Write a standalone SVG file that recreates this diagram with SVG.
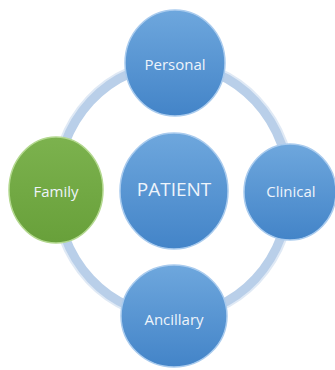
<svg xmlns="http://www.w3.org/2000/svg" width="335" height="370" viewBox="0 0 335 370">
<defs>
<linearGradient id="blue" x1="0" y1="0" x2="0" y2="1">
<stop offset="0" stop-color="#6ea7dd"/>
<stop offset="1" stop-color="#4384c8"/>
</linearGradient>
<linearGradient id="green" x1="0" y1="0" x2="0" y2="1">
<stop offset="0" stop-color="#7cb24e"/>
<stop offset="1" stop-color="#68a03a"/>
</linearGradient>
<style>
.ring{fill:none;stroke:#b9cfe9;stroke-width:10}
.ringhl{fill:none;stroke:#dfe9f5;stroke-width:2}
.b{fill:url(#blue);stroke:#a9cbee;stroke-width:1.5}
.g{fill:url(#green);stroke:#b3d88f;stroke-width:1.5}
.t{font-family:"Open Sans","Noto Sans",sans-serif;fill:#eef4fb;text-anchor:middle;dominant-baseline:central}
</style>
</defs>
<g id="connectors">
<ellipse class="ring" cx="173" cy="190" rx="117" ry="126"/>
<ellipse class="ringhl" cx="173" cy="190" rx="122" ry="131"/>
</g>
<g id="patient">
<ellipse class="b" cx="174" cy="191" rx="54" ry="58"/>
<text class="t" x="174" y="189" font-size="19">PATIENT</text>
</g>
<g id="personal">
<ellipse class="b" cx="175" cy="63" rx="50" ry="53"/>
<text class="t" x="175" y="64" font-size="15">Personal</text>
</g>
<g id="family">
<ellipse class="g" cx="56" cy="190" rx="47" ry="53"/>
<text class="t" x="56" y="191" font-size="15">Family</text>
</g>
<g id="clinical">
<ellipse class="b" cx="290" cy="192" rx="46" ry="48"/>
<text class="t" x="291" y="191" font-size="15">Clinical</text>
</g>
<g id="ancillary">
<ellipse class="b" cx="174" cy="316" rx="53" ry="51"/>
<text class="t" x="174" y="319" font-size="15">Ancillary</text>
</g>
</svg>
